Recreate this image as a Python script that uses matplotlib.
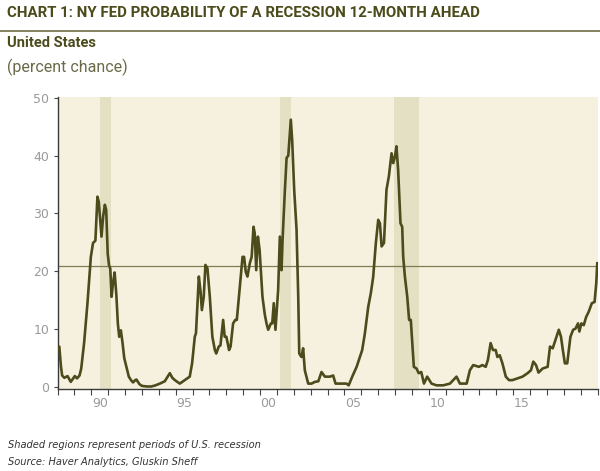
import matplotlib
matplotlib.use("Agg")
import matplotlib.pyplot as plt
from matplotlib.ticker import FixedLocator, NullFormatter

# values (year fraction, percent chance)
years = [
    1988.00, 1988.10, 1988.20, 1988.27, 1988.40, 1988.59, 1988.78, 1989.02, 1989.15, 1989.30,
    1989.40, 1989.57, 1989.77, 1989.97, 1990.10, 1990.24, 1990.36, 1990.44, 1990.52, 1990.60,
    1990.70, 1990.80, 1990.88, 1990.97, 1991.05, 1991.12, 1991.20, 1991.28, 1991.38, 1991.48,
    1991.57, 1991.65, 1991.75, 1991.85, 1991.95, 1992.05, 1992.22, 1992.35, 1992.47, 1992.60,
    1992.67, 1992.85, 1993.00, 1993.30, 1993.56, 1993.80, 1994.06, 1994.35, 1994.65, 1994.80,
    1994.95, 1995.24, 1995.54, 1995.83, 1995.97, 1996.13, 1996.20, 1996.37, 1996.47, 1996.55,
    1996.66, 1996.76, 1996.88, 1997.02, 1997.17, 1997.32, 1997.40, 1997.55, 1997.65, 1997.81,
    1997.90, 1998.00, 1998.16, 1998.25, 1998.40, 1998.53, 1998.62, 1998.80, 1998.96, 1999.05,
    1999.15, 1999.25, 1999.39, 1999.50, 1999.61, 1999.68, 1999.77, 1999.87, 1999.97, 2000.14,
    2000.28, 2000.38, 2000.48, 2000.64, 2000.72, 2000.81, 2000.91, 2001.07, 2001.17, 2001.27,
    2001.33, 2001.47, 2001.57, 2001.67, 2001.82, 2001.90, 2002.02, 2002.16, 2002.26, 2002.32,
    2002.45, 2002.55, 2002.65, 2002.85, 2003.05, 2003.25, 2003.45, 2003.64, 2003.84, 2004.14,
    2004.33, 2004.47, 2004.82, 2005.12, 2005.25, 2005.46, 2005.72, 2005.91, 2006.05, 2006.21,
    2006.41, 2006.56, 2006.70, 2006.86, 2007.00, 2007.10, 2007.20, 2007.34, 2007.49, 2007.63,
    2007.79, 2007.89, 2007.99, 2008.08, 2008.18, 2008.32, 2008.42, 2008.48, 2008.58, 2008.72,
    2008.83, 2008.93, 2009.11, 2009.27, 2009.40, 2009.55, 2009.71, 2009.90, 2010.16, 2010.45,
    2010.85, 2011.25, 2011.64, 2011.84, 2012.24, 2012.43, 2012.63, 2012.97, 2013.17, 2013.37,
    2013.50, 2013.66, 2013.80, 2013.96, 2014.06, 2014.20, 2014.36, 2014.56, 2014.75, 2014.95,
    2015.25, 2015.55, 2015.85, 2016.05, 2016.19, 2016.35, 2016.50, 2016.74, 2017.04, 2017.18,
    2017.34, 2017.50, 2017.70, 2017.83, 2017.94, 2018.06, 2018.20, 2018.39, 2018.55, 2018.69,
    2018.84, 2018.92, 2019.04, 2019.18, 2019.32, 2019.47, 2019.66, 2019.82, 2019.92, 2019.98,
]
prob = [
    7.0, 7.0, 3.5, 2.0, 1.6, 1.9, 0.9, 1.9, 1.5, 2.0,
    3.2, 7.6, 14.5, 22.5, 24.9, 25.3, 32.9, 32.0, 29.0, 26.0,
    29.5, 31.5, 30.6, 23.0, 21.0, 20.5, 15.6, 17.9, 19.8, 16.0,
    11.0, 8.7, 9.8, 7.6, 5.0, 3.8, 1.8, 1.2, 0.8, 1.2,
    1.3, 0.5, 0.2, 0.1, 0.1, 0.3, 0.6, 1.0, 2.4, 1.6,
    1.2, 0.6, 1.2, 1.8, 4.1, 8.7, 9.3, 19.1, 16.5, 13.3,
    15.6, 21.1, 20.5, 15.6, 8.7, 6.4, 5.8, 7.0, 7.2, 11.6,
    8.7, 8.7, 6.4, 7.0, 11.0, 11.6, 11.6, 17.4, 22.5, 22.5,
    19.9, 19.1, 21.4, 22.5, 27.7, 26.6, 20.2, 26.0, 23.7, 15.6,
    12.5, 11.0, 9.9, 11.0, 11.0, 14.5, 9.9, 16.8, 26.0, 20.2,
    25.4, 34.1, 39.6, 40.0, 46.2, 42.7, 34.1, 27.2, 15.6, 5.8,
    5.2, 6.7, 2.9, 0.6, 0.6, 0.9, 1.0, 2.6, 1.8, 1.8,
    2.0, 0.6, 0.6, 0.6, 0.3, 1.8, 3.5, 5.2, 6.4, 9.3,
    13.9, 16.2, 19.0, 24.9, 28.9, 28.3, 24.3, 24.9, 34.1, 36.4,
    40.4, 38.7, 39.8, 41.6, 37.5, 28.3, 27.7, 22.5, 19.1, 15.6,
    11.6, 11.6, 3.5, 3.2, 2.4, 2.6, 0.6, 1.8, 0.6, 0.3,
    0.3, 0.6, 1.8, 0.6, 0.6, 2.9, 3.8, 3.5, 3.8, 3.5,
    4.7, 7.6, 6.4, 6.4, 5.2, 5.5, 4.1, 1.8, 1.2, 1.2,
    1.5, 1.8, 2.4, 2.9, 4.4, 3.8, 2.5, 3.2, 3.5, 7.0,
    6.7, 8.1, 9.9, 8.7, 6.4, 4.1, 4.1, 8.7, 9.9, 10.1,
    11.0, 9.6, 11.0, 10.7, 12.1, 13.0, 14.5, 14.7, 17.9, 21.4,
]
recessions = [(1990.5, 1991.17), (2001.17, 2001.83), (2007.92, 2009.42)]
latest_level = 20.9
label_years = [1990, 1995, 2000, 2005, 2010, 2015]
label_text = ["90", "95", "00", "05", "10", "15"]

olive = "#4b4b1c"
fig = plt.figure(figsize=(6.0, 4.71), dpi=100)
fig.patch.set_facecolor("white")

ax = fig.add_axes([0.096, 0.175, 0.900, 0.620])
ax.set_facecolor("#f6f1de")
for start, end in recessions:
    ax.axvspan(start, end, color="#e3e0c4", lw=0, zorder=1)
ax.axhline(latest_level, color="#7d7d55", lw=0.9, zorder=2)
ax.plot(years, prob, color=olive, lw=1.9, zorder=3, solid_joinstyle="round")

ax.set_xlim(1988, 2020)
ax.set_ylim(-0.26, 50.2)
ax.set_yticks([0, 10, 20, 30, 40, 50])
ax.xaxis.set_major_locator(FixedLocator(list(range(1988, 2021))))
ax.xaxis.set_major_formatter(NullFormatter())
ax.xaxis.set_minor_locator(FixedLocator([y + 0.5 for y in label_years]))
ax.set_xticklabels(label_text, minor=True)
ax.tick_params(axis="x", which="major", length=4, width=0.8, color="#444444")
ax.tick_params(axis="x", which="minor", length=0, labelsize=9, labelcolor="#9a9a9a", pad=6)
ax.tick_params(axis="y", length=3, width=0.8, color="#444444", labelsize=9,
               labelcolor="#9a9a9a", pad=3)
for side in ["top", "right"]:
    ax.spines[side].set_visible(False)
for side in ["left", "bottom"]:
    ax.spines[side].set_color("#3a3a3a")
    ax.spines[side].set_linewidth(1.0)

renderer = fig.canvas.get_renderer()


def fitted_text(x, y, s, width_px, **kw):
    # shrink/grow the font so the text spans the same width as in the reference
    t = fig.text(x, y, s, **kw)
    w = t.get_window_extent(renderer).width
    t.set_fontsize(t.get_fontsize() * width_px / w)
    return t


fam = ["Roboto", "DejaVu Sans"]
fitted_text(0.012, 0.972, "CHART 1: NY FED PROBABILITY OF A RECESSION 12-MONTH AHEAD", 471,
            family=fam, fontweight="bold", fontsize=11, color=olive, va="center")
fig.add_artist(plt.Line2D([0, 1], [0.934, 0.934], color="#6e6e45", lw=1.2))
fig.text(0.012, 0.908, "United States", family=fam, fontweight="bold",
         fontsize=10.5, color=olive, va="center")
fitted_text(0.012, 0.856, "(percent chance)", 120, family=fam, fontsize=11,
            color="#6a6a48", va="center")
fig.text(0.013, 0.055, "Shaded regions represent periods of U.S. recession",
         style="italic", fontsize=7.1, color="#333333", va="center")
fig.text(0.013, 0.019, "Source: Haver Analytics, Gluskin Sheff",
         style="italic", fontsize=7.1, color="#333333", va="center")

fig.savefig("out.png", dpi=100)
